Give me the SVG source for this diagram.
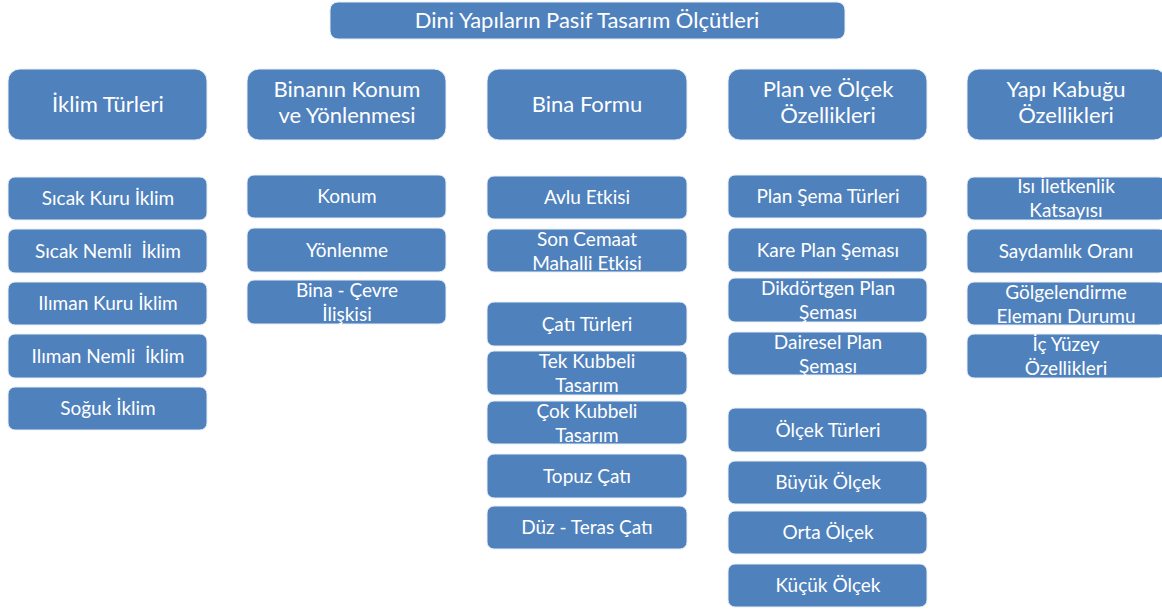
<svg xmlns="http://www.w3.org/2000/svg" width="1162" height="610" viewBox="0 0 1162 610">
<style>
.b{fill:#4F81BD;stroke:#E8EEF7;stroke-width:1}
.h{font-family:Lato,"Open Sans","Liberation Sans",sans-serif;font-size:22px;fill:#FFFFFF;text-anchor:middle}
.t{font-family:Lato,"Open Sans","Liberation Sans",sans-serif;font-size:19px;fill:#FFFFFF;text-anchor:middle}
</style>
<rect width="1162" height="610" fill="#FFFFFF"/>
<g id="connectors"/>
<g id="title"><rect class="b" x="330" y="2" width="515" height="37" rx="8"/><text class="h" x="587" y="28">Dini Yapıların Pasif Tasarım Ölçütleri</text></g>

<g id="h1"><rect class="b" x="8" y="69" width="199" height="71" rx="12"/><text class="h" x="108" y="112">İklim Türleri</text></g>
<g id="h2"><rect class="b" x="247" y="69" width="199" height="71" rx="12"/><text class="h" x="347" y="97">Binanın Konum</text><text class="h" x="347" y="123">ve Yönlenmesi</text></g>
<g id="h3"><rect class="b" x="487" y="69" width="200" height="71" rx="12"/><text class="h" x="587" y="112">Bina Formu</text></g>
<g id="h4"><rect class="b" x="728" y="69" width="199" height="71" rx="12"/><text class="h" x="828" y="97">Plan ve Ölçek</text><text class="h" x="828" y="123">Özellikleri</text></g>
<g id="h5"><rect class="b" x="967" y="69" width="199" height="71" rx="12"/><text class="h" x="1066" y="97">Yapı Kabuğu</text><text class="h" x="1066" y="123">Özellikleri</text></g>

<g id="c1a"><rect class="b" x="8" y="177" width="199" height="43" rx="7"/><text class="t" x="108" y="205">Sıcak Kuru İklim</text></g>
<g id="c1b"><rect class="b" x="8" y="229" width="199" height="44" rx="7"/><text class="t" x="108" y="258" xml:space="preserve">Sıcak Nemli  İklim</text></g>
<g id="c1c"><rect class="b" x="8" y="282" width="199" height="43" rx="7"/><text class="t" x="108" y="310">Ilıman Kuru İklim</text></g>
<g id="c1d"><rect class="b" x="8" y="334" width="199" height="44" rx="7"/><text class="t" x="108" y="363" xml:space="preserve">Ilıman Nemli  İklim</text></g>
<g id="c1e"><rect class="b" x="8" y="387" width="199" height="43" rx="7"/><text class="t" x="108" y="415">Soğuk İklim</text></g>

<g id="c2a"><rect class="b" x="247" y="175" width="199" height="43" rx="7"/><text class="t" x="347" y="203">Konum</text></g>
<g id="c2b"><rect class="b" x="247" y="228" width="199" height="44" rx="7"/><text class="t" x="347" y="257">Yönlenme</text></g>
<g id="c2c"><rect class="b" x="247" y="280" width="199" height="44" rx="7"/><text class="t" x="347" y="297">Bina - Çevre</text><text class="t" x="347" y="321">İlişkisi</text></g>

<g id="c3a"><rect class="b" x="487" y="176" width="200" height="43" rx="7"/><text class="t" x="587" y="204">Avlu Etkisi</text></g>
<g id="c3b"><rect class="b" x="487" y="229" width="200" height="43" rx="7"/><text class="t" x="587" y="246">Son Cemaat</text><text class="t" x="587" y="270">Mahalli Etkisi</text></g>
<g id="c3c"><rect class="b" x="487" y="302" width="200" height="44" rx="7"/><text class="t" x="587" y="331">Çatı Türleri</text></g>
<g id="c3d"><rect class="b" x="487" y="351" width="200" height="44" rx="7"/><text class="t" x="587" y="368">Tek Kubbeli</text><text class="t" x="587" y="392">Tasarım</text></g>
<g id="c3e"><rect class="b" x="487" y="401" width="200" height="43" rx="7"/><text class="t" x="587" y="418">Çok Kubbeli</text><text class="t" x="587" y="442">Tasarım</text></g>
<g id="c3f"><rect class="b" x="487" y="454" width="200" height="44" rx="7"/><text class="t" x="587" y="483">Topuz Çatı</text></g>
<g id="c3g"><rect class="b" x="487" y="506" width="200" height="43" rx="7"/><text class="t" x="587" y="534">Düz - Teras Çatı</text></g>

<g id="c4a"><rect class="b" x="728" y="175" width="199" height="43" rx="7"/><text class="t" x="828" y="203">Plan Şema Türleri</text></g>
<g id="c4b"><rect class="b" x="728" y="228" width="199" height="44" rx="7"/><text class="t" x="828" y="257">Kare Plan Şeması</text></g>
<g id="c4c"><rect class="b" x="728" y="278" width="199" height="44" rx="7"/><text class="t" x="828" y="295">Dikdörtgen Plan</text><text class="t" x="828" y="319">Şeması</text></g>
<g id="c4d"><rect class="b" x="728" y="332" width="199" height="43" rx="7"/><text class="t" x="828" y="349">Dairesel Plan</text><text class="t" x="828" y="373">Şeması</text></g>
<g id="c4e"><rect class="b" x="728" y="408" width="199" height="44" rx="7"/><text class="t" x="828" y="437">Ölçek Türleri</text></g>
<g id="c4f"><rect class="b" x="728" y="461" width="199" height="43" rx="7"/><text class="t" x="828" y="489">Büyük Ölçek</text></g>
<g id="c4g"><rect class="b" x="728" y="511" width="199" height="43" rx="7"/><text class="t" x="828" y="539">Orta Ölçek</text></g>
<g id="c4h"><rect class="b" x="728" y="564" width="199" height="43" rx="7"/><text class="t" x="828" y="592">Küçük Ölçek</text></g>

<g id="c5a"><rect class="b" x="967" y="177" width="199" height="43" rx="7"/><text class="t" x="1066" y="193">Isı İletkenlik</text><text class="t" x="1066" y="217">Katsayısı</text></g>
<g id="c5b"><rect class="b" x="967" y="229" width="199" height="44" rx="7"/><text class="t" x="1066" y="258">Saydamlık Oranı</text></g>
<g id="c5c"><rect class="b" x="967" y="282" width="199" height="43" rx="7"/><text class="t" x="1066" y="299">Gölgelendirme</text><text class="t" x="1066" y="323">Elemanı Durumu</text></g>
<g id="c5d"><rect class="b" x="967" y="334" width="199" height="44" rx="7"/><text class="t" x="1066" y="351">İç Yüzey</text><text class="t" x="1066" y="375">Özellikleri</text></g>
</svg>
